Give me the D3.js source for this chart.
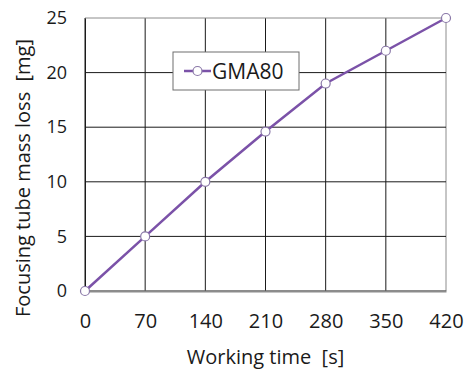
<!DOCTYPE html>
<html lang="en">
<head>
  <meta charset="UTF-8">
  <style>
    body { margin: 0; padding: 0; background: #ffffff; }
    svg text { font-family: "Open Sans", "Noto Sans", sans-serif; fill: #1a1a1a; white-space: pre; }
  </style>
</head>
<body>
  <svg id="chart"></svg>
  <script src="https://d3js.org/d3.v7.min.js"></script>
  <script>
    // data
    let times = [0, 70, 140, 210, 280, 350, 420];
    let massLoss = [0, 5, 10, 14.6, 19, 22, 25];
    let xTicks = [0, 70, 140, 210, 280, 350, 420];
    let yTicks = [0, 5, 10, 15, 20, 25];
    let seriesName = "GMA80";

    let width = 466, height = 372;
    let margin = {top: 18, right: 20, bottom: 81, left: 85};

    let svg = d3.select("#chart")
        .attr("width", width)
        .attr("height", height);

    let x = d3.scaleLinear().domain([0, 420]).range([margin.left, width - margin.right]);
    let y = d3.scaleLinear().domain([0, 25]).range([height - margin.bottom, margin.top]);

    // grid
    svg.append("g")
        .selectAll("line")
        .data(xTicks)
        .enter()
        .append("line")
        .attr("x1", d => x(d)).attr("x2", d => x(d))
        .attr("y1", y(0)).attr("y2", y(25))
        .attr("stroke", d => d == 420 ? "#8c8c8c" : "#1a1a1a")
        .attr("stroke-width", 1);

    svg.append("g")
        .selectAll("line")
        .data(yTicks)
        .enter()
        .append("line")
        .attr("x1", x(0)).attr("x2", x(420))
        .attr("y1", d => y(d)).attr("y2", d => y(d))
        .attr("stroke", d => d == 25 ? "#8c8c8c" : "#1a1a1a")
        .attr("stroke-width", 1);

    // axes
    let xAxis = svg.append("g")
        .attr("transform", "translate(0," + y(0) + ")")
        .call(d3.axisBottom(x).tickValues(xTicks).tickSize(0).tickPadding(23));
    xAxis.select(".domain").attr("stroke", "#8c8c8c").attr("stroke-width", 2);
    xAxis.selectAll("text").style("font-size", "20px");

    let yAxis = svg.append("g")
        .attr("transform", "translate(" + x(0) + ",0)")
        .call(d3.axisLeft(y).tickValues(yTicks).tickSize(0).tickPadding(18));
    yAxis.select(".domain").attr("stroke", "#1a1a1a").attr("stroke-width", 1);
    yAxis.selectAll("text").style("font-size", "18px");

    // axis titles
    svg.append("text")
        .attr("x", (x(0) + x(420)) / 2)
        .attr("y", 364)
        .attr("text-anchor", "middle")
        .style("font-size", "20px")
        .text("Working time  [s]");

    svg.append("text")
        .attr("transform", "translate(30," + 178 + ") rotate(-90)")
        .attr("text-anchor", "middle")
        .style("font-size", "20px")
        .text("Focusing tube mass loss  [mg]");

    // series
    let points = times.map((t, i) => [t, massLoss[i]]);
    let line = d3.line().x(d => x(d[0])).y(d => y(d[1]));

    svg.append("path")
        .datum(points)
        .attr("d", line)
        .attr("fill", "none")
        .attr("stroke", "#7b52a8")
        .attr("stroke-width", 2.5);

    svg.append("g")
        .selectAll("circle")
        .data(points)
        .enter()
        .append("circle")
        .attr("cx", d => x(d[0]))
        .attr("cy", d => y(d[1]))
        .attr("r", 4.5)
        .attr("fill", "#ffffff")
        .attr("stroke", "#8a78a8")
        .attr("stroke-width", 1.2);

    // legend
    let legend = svg.append("g").attr("transform", "translate(173,52)");
    legend.append("rect")
        .attr("width", 126).attr("height", 38)
        .attr("fill", "#ffffff")
        .attr("stroke", "#6e6e6e")
        .attr("stroke-width", 1);
    legend.append("line")
        .attr("x1", 11).attr("x2", 38)
        .attr("y1", 19).attr("y2", 19)
        .attr("stroke", "#7b52a8")
        .attr("stroke-width", 2.5);
    legend.append("circle")
        .attr("cx", 24.5).attr("cy", 19).attr("r", 4.5)
        .attr("fill", "#ffffff")
        .attr("stroke", "#8a78a8")
        .attr("stroke-width", 1.2);
    legend.append("text")
        .attr("x", 39).attr("y", 27)
        .style("font-size", "21px")
        .text(seriesName);
  </script>
</body>
</html>
